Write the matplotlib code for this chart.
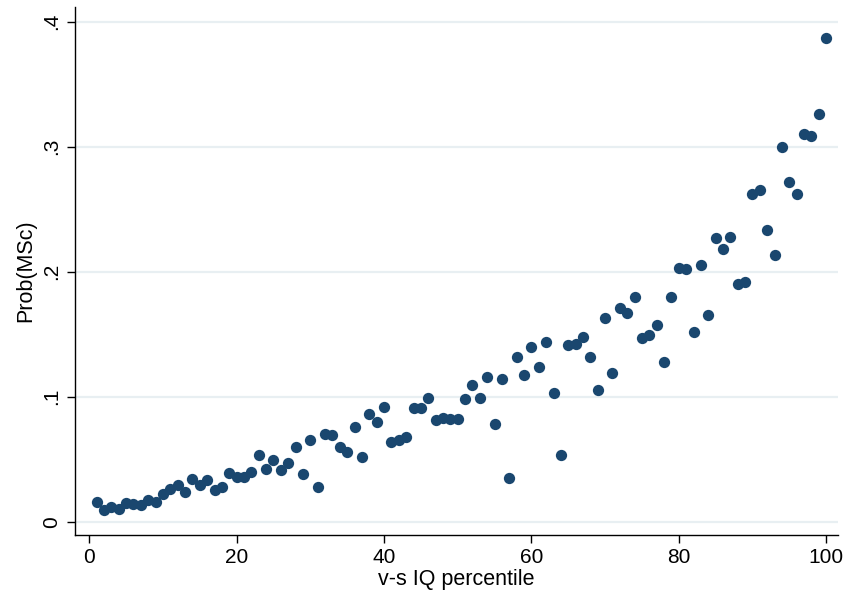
import numpy as np
import matplotlib
matplotlib.use("Agg")
import matplotlib.pyplot as plt

# percentile bins 1..100 and estimated probability of MSc
pctile = list(range(1, 101))
prob_msc = [
    0.016, 0.009, 0.012, 0.010, 0.015, 0.014, 0.013, 0.017, 0.016, 0.022,
    0.026, 0.029, 0.024, 0.034, 0.029, 0.033, 0.025, 0.028, 0.039, 0.036,
    0.036, 0.040, 0.053, 0.042, 0.049, 0.041, 0.047, 0.060, 0.038, 0.065,
    0.028, 0.070, 0.069, 0.060, 0.056, 0.076, 0.052, 0.086, 0.080, 0.092,
    0.064, 0.065, 0.068, 0.091, 0.091, 0.099, 0.081, 0.083, 0.082, 0.082,
    0.098, 0.109, 0.099, 0.116, 0.078, 0.114, 0.035, 0.132, 0.117, 0.140,
    0.124, 0.144, 0.103, 0.053, 0.141, 0.142, 0.148, 0.132, 0.105, 0.163,
    0.119, 0.171, 0.167, 0.180, 0.147, 0.149, 0.157, 0.128, 0.180, 0.203,
    0.202, 0.152, 0.205, 0.165, 0.227, 0.218, 0.228, 0.190, 0.192, 0.262,
    0.265, 0.233, 0.213, 0.300, 0.272, 0.262, 0.310, 0.309, 0.326, 0.387,
]
xticks = [0, 20, 40, 60, 80, 100]
yticks = [0, 0.1, 0.2, 0.3, 0.4]
ytick_labels = ["0", ".1", ".2", ".3", ".4"]

plt.rcParams['font.family'] = ['Liberation Sans', 'DejaVu Sans']

navy = "#1a476f"
grid_col = "#e8eff2"

fig = plt.figure(figsize=(8.51, 5.99), dpi=100)
ax = fig.add_axes([0.0881, 0.1068, 0.9847 - 0.0881, 0.9883 - 0.1068])

ax.scatter(pctile, prob_msc, s=66, color=navy, linewidths=0, zorder=3)

ax.set_xlim(-1.94, 101.6)
ax.set_ylim(-0.01064, 0.4118)
ax.set_xticks(xticks)
ax.set_yticks(yticks)
ax.set_yticklabels(ytick_labels, rotation=90, va='center')
ax.yaxis.grid(True, color=grid_col, linewidth=1.6, zorder=0)
ax.set_axisbelow(True)

for side in ("top", "right"):
    ax.spines[side].set_visible(False)
for side in ("left", "bottom"):
    ax.spines[side].set_linewidth(1.0)
    ax.spines[side].set_color("black")

ax.tick_params(axis='both', direction='out', length=6, width=1.0,
               labelsize=15, colors='black')
ax.tick_params(axis='x', pad=3)
ax.tick_params(axis='y', pad=4)

ax.set_xlabel("v-s IQ percentile", fontsize=15.5, labelpad=2)
ax.set_ylabel("Prob(MSc)", fontsize=15.5, labelpad=4)

fig.savefig("out.png", dpi=100, facecolor="white")
